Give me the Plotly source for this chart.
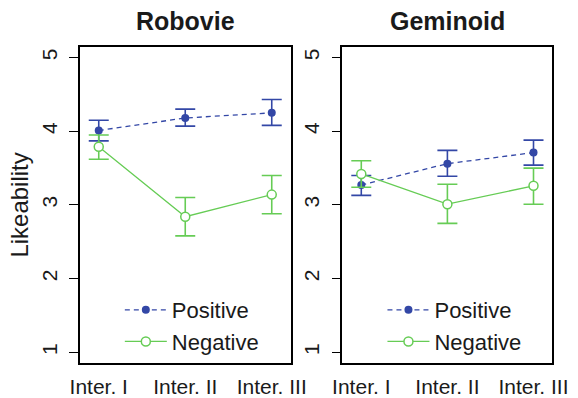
import plotly.graph_objects as go

categories = ["Inter. I", "Inter. II", "Inter. III"]
x_pos = [1, 2, 3]

# Robovie
rob_pos = [4.01, 4.18, 4.25]
rob_pos_hi = [4.15, 4.30, 4.43]
rob_pos_lo = [3.87, 4.07, 4.08]
rob_neg = [3.79, 2.84, 3.14]
rob_neg_hi = [3.95, 3.10, 3.40]
rob_neg_lo = [3.62, 2.58, 2.88]

# Geminoid
gem_pos = [3.27, 3.56, 3.71]
gem_pos_hi = [3.40, 3.74, 3.88]
gem_pos_lo = [3.13, 3.39, 3.54]
gem_neg = [3.42, 3.01, 3.26]
gem_neg_hi = [3.60, 3.28, 3.50]
gem_neg_lo = [3.24, 2.75, 3.01]

panel_titles = ["Robovie", "Geminoid"]
y_ticks = [1, 2, 3, 4, 5]
series_names = ["Positive", "Negative"]

BLUE = "#3347A6"
GREEN = "#66CC55"
FONT = "Liberation Sans, Arial, Helvetica, sans-serif"
W, H = 578, 398

fig = go.Figure()

def add_panel(xa, ya, legend, pos, pos_hi, pos_lo, neg, neg_hi, neg_lo):
    fig.add_trace(go.Scatter(
        x=x_pos, y=pos, mode="lines+markers", name=series_names[0],
        xaxis=xa, yaxis=ya, legend=legend,
        line=dict(color=BLUE, width=1.3, dash="5px,4px"),
        marker=dict(symbol="circle", size=8, color=BLUE),
        error_y=dict(type="data", symmetric=False,
                     array=[h - v for h, v in zip(pos_hi, pos)],
                     arrayminus=[v - l for v, l in zip(pos, pos_lo)],
                     color=BLUE, thickness=1.6, width=10),
    ))
    fig.add_trace(go.Scatter(
        x=x_pos, y=neg, mode="lines+markers", name=series_names[1],
        xaxis=xa, yaxis=ya, legend=legend,
        line=dict(color=GREEN, width=1.3),
        marker=dict(symbol="circle", size=9, color="white",
                    line=dict(color=GREEN, width=1.5)),
        error_y=dict(type="data", symmetric=False,
                     array=[h - v for h, v in zip(neg_hi, neg)],
                     arrayminus=[v - l for v, l in zip(neg, neg_lo)],
                     color=GREEN, thickness=1.6, width=10),
    ))

add_panel("x", "y", "legend", rob_pos, rob_pos_hi, rob_pos_lo, rob_neg, rob_neg_hi, rob_neg_lo)
add_panel("x2", "y2", "legend2", gem_pos, gem_pos_hi, gem_pos_lo, gem_neg, gem_neg_hi, gem_neg_lo)

ytop, ybot = 1 - 47 / H, 1 - 367 / H
dom1 = [73 / W, 294 / W]
dom2 = [348 / W, 568 / W]

xaxis_common = dict(
    range=[0.78, 3.22], tickvals=x_pos, ticktext=categories,
    showgrid=False, zeroline=False, showline=True, mirror=True,
    linecolor="black", linewidth=1.5,
    ticks="outside", ticklen=4, tickcolor="rgba(0,0,0,0)",
    tickfont=dict(family=FONT, size=21, color="#1a1a1a"),
)
yaxis_common = dict(
    range=[0.85, 5.15], tickvals=y_ticks,
    showgrid=False, zeroline=False, showline=True, mirror=True,
    linecolor="black", linewidth=1.5,
    ticks="outside", ticklen=9, tickwidth=1.2, tickcolor="black",
    tickangle=-90, ticklabelstandoff=4,
    tickfont=dict(family=FONT, size=21, color="#1a1a1a"),
    domain=[ybot, ytop],
)

legend_common = dict(xanchor="left", yanchor="top", itemwidth=42,
                     bgcolor="rgba(0,0,0,0)",
                     font=dict(family=FONT, size=22, color="#1a1a1a"))

fig.update_layout(
    width=W, height=H,
    margin=dict(l=0, r=0, t=0, b=0),
    paper_bgcolor="white", plot_bgcolor="white",
    xaxis=dict(domain=dom1, anchor="y", **xaxis_common),
    xaxis2=dict(domain=dom2, anchor="y2", **xaxis_common),
    yaxis=dict(anchor="x", title=dict(text="Likeability", standoff=2,
               font=dict(family=FONT, size=24, color="#1a1a1a")), **yaxis_common),
    yaxis2=dict(anchor="x2", **yaxis_common),
    legend=dict(x=115 / W, y=1 - 292 / H, **legend_common),
    legend2=dict(x=390 / W, y=1 - 292 / H, **legend_common),
    annotations=[
        dict(text="<b>%s</b>" % panel_titles[0], x=(dom1[0] + dom1[1]) / 2, y=1 - 37 / H,
             xref="paper", yref="paper", xanchor="center", yanchor="bottom", showarrow=False,
             font=dict(family=FONT, size=25, color="#1a1a1a")),
        dict(text="<b>%s</b>" % panel_titles[1], x=(dom2[0] + dom2[1]) / 2, y=1 - 37 / H,
             xref="paper", yref="paper", xanchor="center", yanchor="bottom", showarrow=False,
             font=dict(family=FONT, size=25, color="#1a1a1a")),
    ],
)

fig.write_html("out.html")
